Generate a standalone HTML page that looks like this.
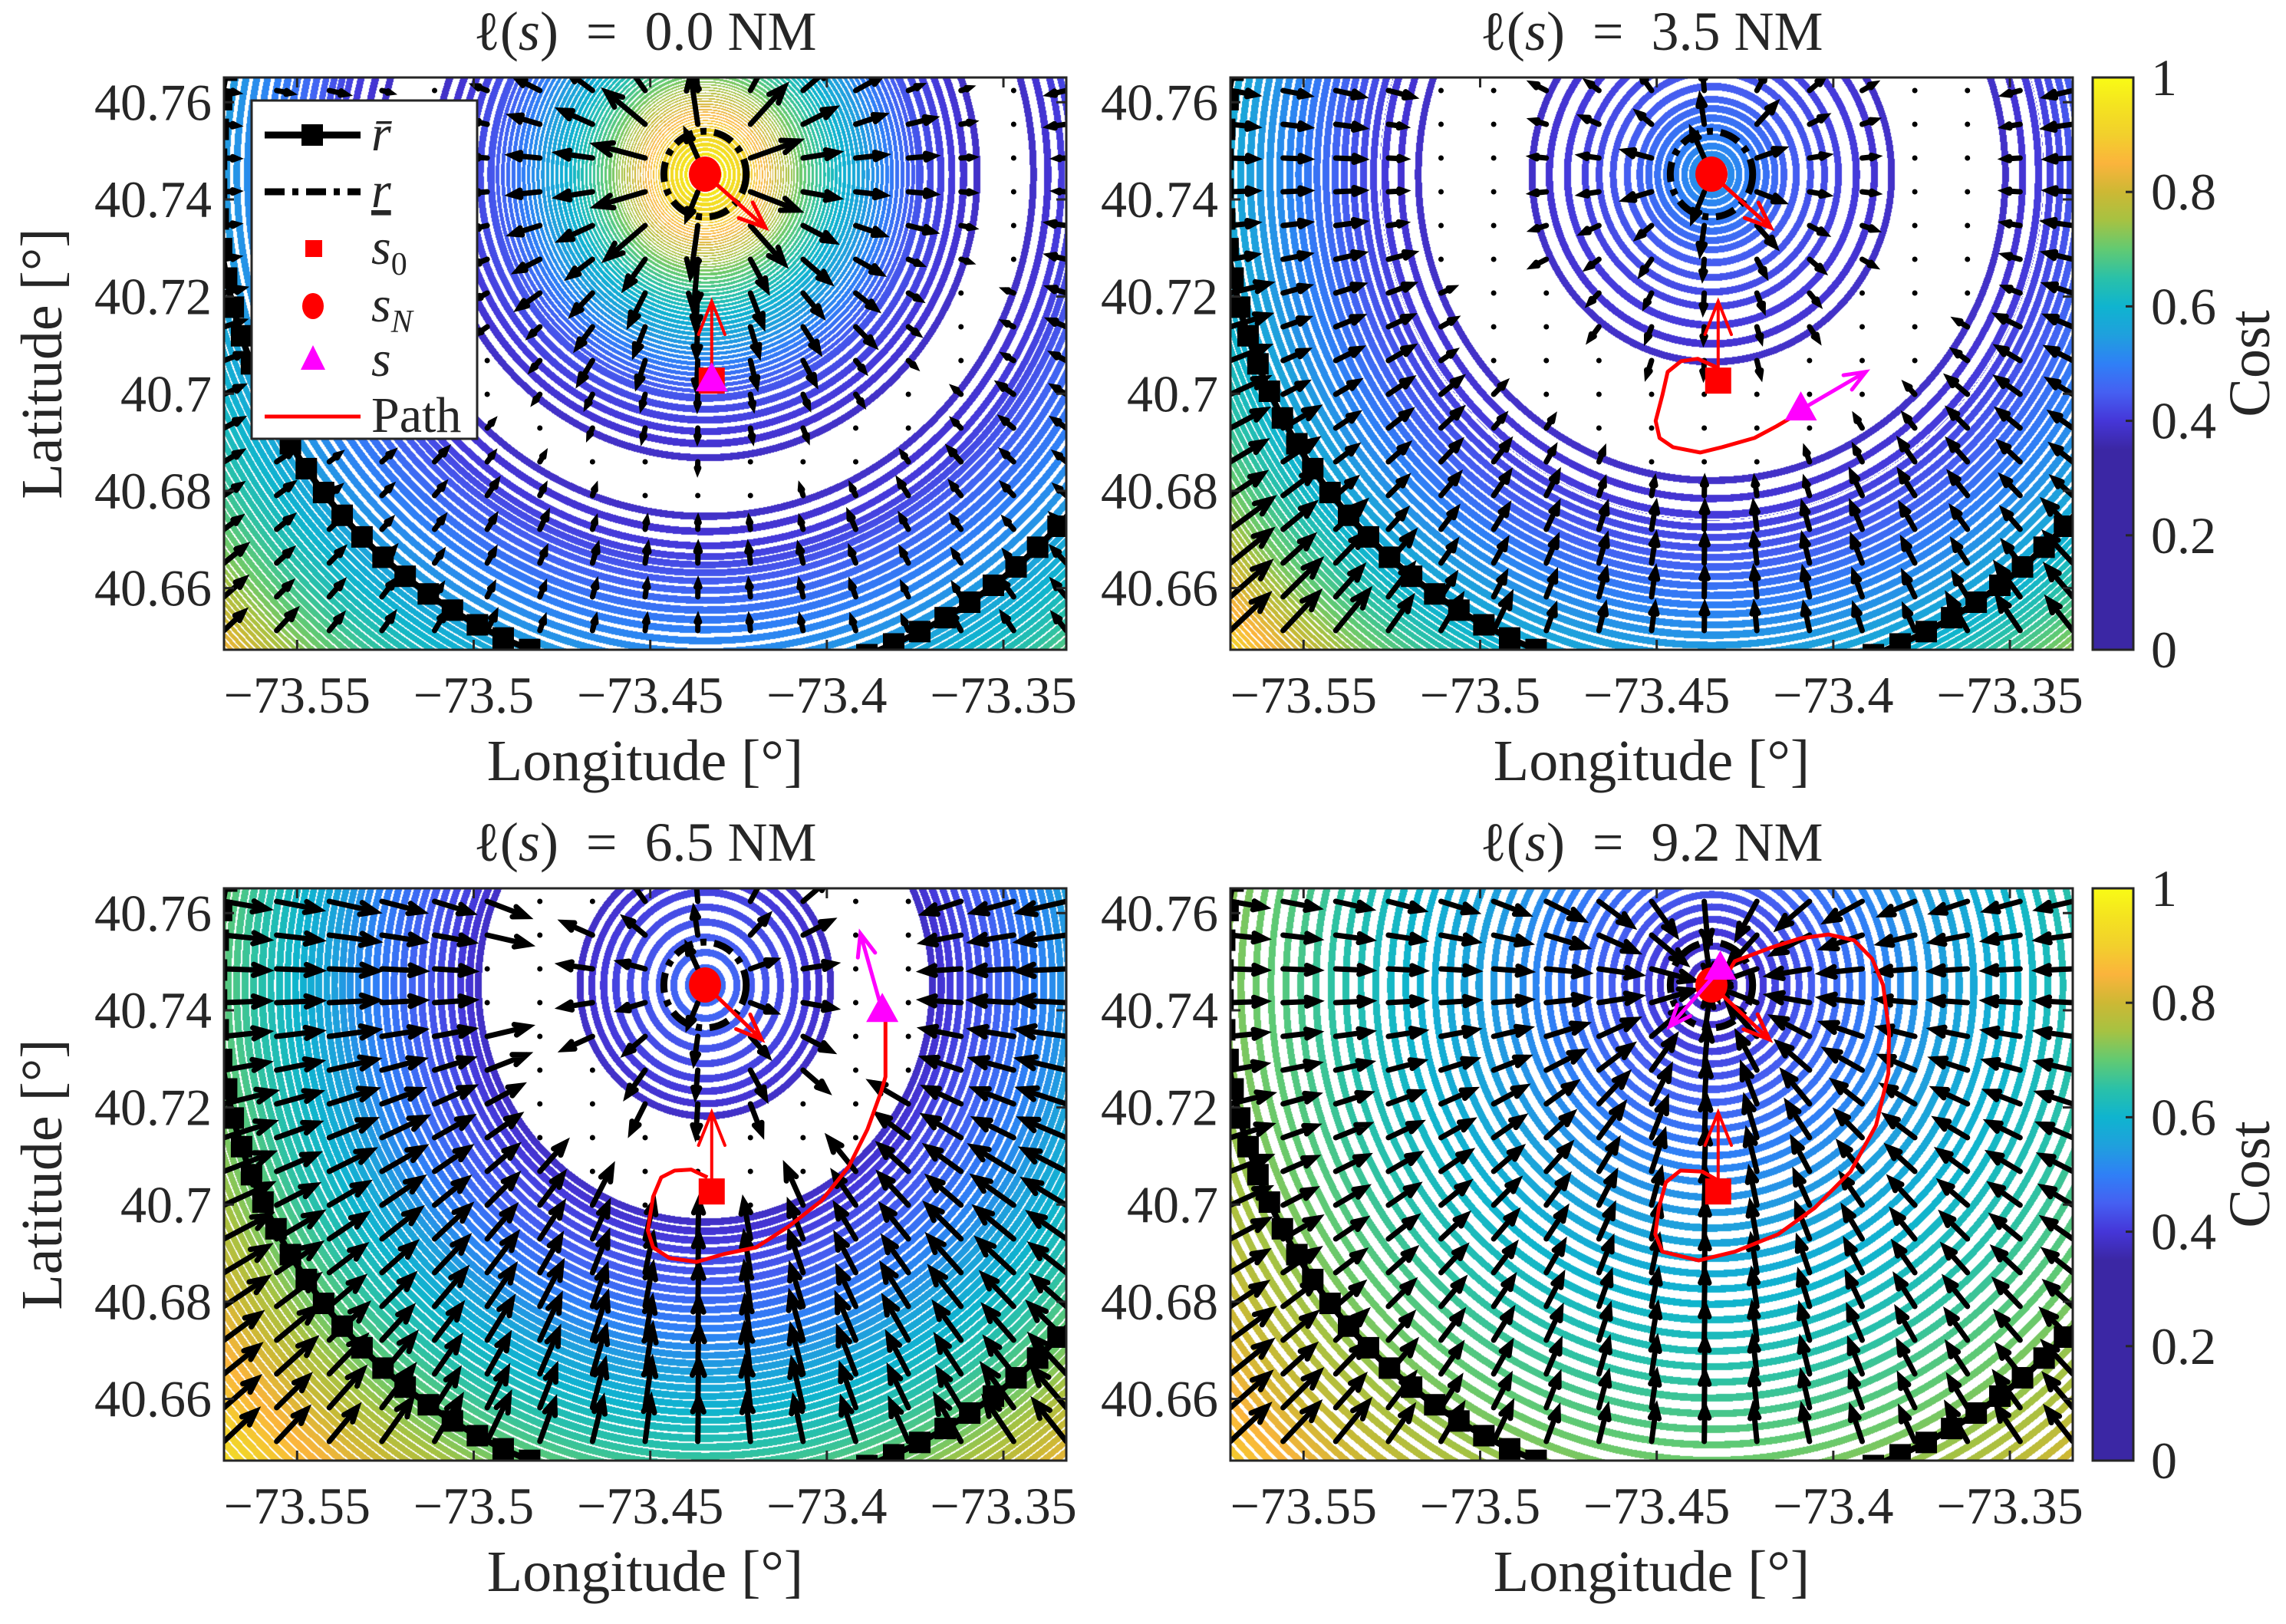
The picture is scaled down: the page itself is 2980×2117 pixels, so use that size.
<!DOCTYPE html>
<html><head><meta charset="utf-8"><style>
html,body{margin:0;padding:0;background:#fff;}
#wrap{position:relative;width:2980px;height:2117px;overflow:hidden;background:#fff;}
canvas{position:absolute;}
svg{position:absolute;left:0;top:0;}
text{font-family:"Liberation Serif","DejaVu Serif",serif;fill:#262626;}
</style></head><body>
<div id="wrap">
<canvas id="c1" width="1098" height="746" style="left:292px;top:101px"></canvas>
<canvas id="c2" width="1098" height="746" style="left:1604px;top:101px"></canvas>
<canvas id="c3" width="1098" height="746" style="left:292px;top:1158px"></canvas>
<canvas id="c4" width="1098" height="746" style="left:1604px;top:1158px"></canvas>
<svg id="ov" width="2980" height="2117" viewBox="0 0 2980 2117"></svg>
</div>
<script>
// ---- data ----
const lonTicks = [-73.55, -73.5, -73.45, -73.4, -73.35];
const latTicks = [40.66, 40.68, 40.7, 40.72, 40.74, 40.76];
const cbTicks = [0, 0.2, 0.4, 0.6, 0.8, 1];
const titles = ["0.0", "3.5", "6.5", "9.2"];
const cmapPos = [0, 0.35, 0.4, 0.45, 0.5, 0.55, 0.6, 0.65, 0.7, 0.75, 0.8, 0.85, 0.9, 0.95, 1];
const cmapCol = ["#3b27a4","#3b27a4","#4536d8","#4560f2","#2f80f6","#1fa0dd","#0fb4cf","#2ac1a8","#62ca72","#a6c242","#cdb834","#fbb43c","#f2d02c","#f4e320","#f9fb15"];
const sNLon = -73.4345, sNLat = 40.7452;
const s0Lon = -73.4326, s0Lat = 40.7027;
const rBarNM = 6.29, rLowNM = 0.53;
// cost profiles vs distance from s_N (NM)
const p1R = [0,0.58,1.17,1.75,2.33,2.72,3.11,3.40,3.59,4.13,4.32,4.66,5.05,5.63,6.29,6.99,7.77,8.64,10];
const p1C = [1.0,0.9,0.72,0.6,0.5,0.44,0.41,0.39,0.38,0.38,0.39,0.41,0.45,0.5,0.55,0.63,0.72,0.86,1.0];
const p2R = [0,0.39,0.97,1.65,2.23,2.43,3.64,3.88,4.27,4.66,5.44,6.29,7.38,8.64,10];
const p2C = [0.545,0.506,0.454,0.415,0.389,0.379,0.379,0.389,0.409,0.441,0.51,0.58,0.72,0.93,1.0];
const p3R = [0,0.58,1.17,1.70,2.86,3.11,3.69,4.47,5.44,6.29,7.38,8.64,10];
const p3C = [0.48,0.448,0.415,0.379,0.379,0.402,0.45,0.52,0.62,0.7,0.82,0.94,1.0];
const p4R = [0,0.58,1.17,2.43,3.88,6.29,7.38,8.64,10];
const p4C = [0.37,0.40,0.44,0.52,0.60,0.73,0.80,0.90,1.0];
// paths
const p2PathLon = [-73.4326,-73.4384,-73.4431,-73.4469,-73.4484,-73.4503,-73.4492,-73.4454,-73.4377,-73.4315,-73.4223,-73.4161,-73.4100];
const p2PathLat = [40.7053,40.7072,40.7067,40.7045,40.6997,40.6944,40.6909,40.6890,40.6879,40.6890,40.6909,40.6933,40.6959];
const p3PathLon = [-73.4338,-73.4384,-73.4431,-73.4469,-73.4492,-73.4507,-73.4492,-73.4446,-73.4369,-73.4292,-73.4200,-73.4108,-73.4015,-73.3938,-73.3885,-73.3846,-73.3834,-73.3834];
const p3PathLat = [40.7056,40.7072,40.7070,40.7056,40.7016,40.6947,40.6912,40.6890,40.6882,40.6898,40.6912,40.6955,40.7008,40.7078,40.7155,40.7233,40.7263,40.7402];
const p4PathLon = [-73.4330,-73.4371,-73.4433,-73.4474,-73.4494,-73.4504,-73.4484,-73.4381,-73.4279,-73.4156,-73.4053,-73.3951,-73.3879,-73.3844,-73.3842,-73.3859,-73.3890,-73.3941,-73.4013,-73.4094,-73.4176,-73.4279,-73.4310];
const p4PathLat = [40.7051,40.7068,40.7070,40.7046,40.6993,40.6939,40.6903,40.6885,40.6903,40.6939,40.6993,40.7068,40.7163,40.7270,40.7356,40.7452,40.7506,40.7544,40.7556,40.7548,40.7529,40.7501,40.7463];
const sLon = [s0Lon, -73.4092, -73.3843, -73.4320];
const sLat = [s0Lat, 40.6967, 40.7398, 40.7485];
const sArrLon = [null, -73.3908, -73.3905, -73.4463];
const sArrLat = [null, 40.7045, 40.7558, 40.7367];
const nArrLon = [-73.4174, -73.4177, -73.4185, -73.4181];
const nArrLat = [40.7342, 40.7342, 40.7340, 40.7340];
const s0ArrLat = 40.7190;

// ---- geometry ----
const LON0 = -73.5707, LONSPAN = 0.2385, LAT1 = 40.7651, LATSPAN = 0.1178;
const W = 1098, H = 746;
const PANELS = [
  {L:292, T:101, R:p1R, C:p1C, pl:null, plat:null},
  {L:1604, T:101, R:p2R, C:p2C, pl:p2PathLon, plat:p2PathLat},
  {L:292, T:1158, R:p3R, C:p3C, pl:p3PathLon, plat:p3PathLat},
  {L:1604, T:1158, R:p4R, C:p4C, pl:p4PathLon, plat:p4PathLat}
];
const PXNMX = W / LONSPAN / (60 * Math.cos(40.745 * Math.PI / 180));
const PXNMY = H / LATSPAN / 60;
const DLEV = 0.0104;
function xS(p, lon){ return p.L + (lon - LON0) / LONSPAN * W; }
function yS(p, lat){ return p.T + (LAT1 - lat) / LATSPAN * H; }
function hex(h){ return [parseInt(h.substr(1,2),16), parseInt(h.substr(3,2),16), parseInt(h.substr(5,2),16)]; }
const cmapRGB = cmapCol.map(hex);
function cmap(v){
  v = Math.max(0, Math.min(1, v));
  for (let i = 1; i < cmapPos.length; i++) {
    if (v <= cmapPos[i]) {
      const t = (v - cmapPos[i-1]) / (cmapPos[i] - cmapPos[i-1] || 1);
      const a = cmapRGB[i-1], b = cmapRGB[i];
      return [a[0]+(b[0]-a[0])*t, a[1]+(b[1]-a[1])*t, a[2]+(b[2]-a[2])*t];
    }
  }
  return cmapRGB[cmapRGB.length-1];
}
function prof(p, d){
  const R = p.R, C = p.C;
  for (let i = 1; i < R.length; i++) {
    if (d <= R[i] || i === R.length - 1) {
      const s = (C[i] - C[i-1]) / (R[i] - R[i-1]);
      return [C[i-1] + s * (d - R[i-1]), s];
    }
  }
}

// ---- field ----
PANELS.forEach((p, k) => {
  const cv = document.getElementById('c' + (k+1));
  const ctx = cv.getContext('2d');
  const img = ctx.createImageData(W, H);
  const cx = xS(p, sNLon) - p.L, cy = yS(p, sNLat) - p.T;
  const N = 3000, lutC = new Float32Array(N), lutS = new Float32Array(N);
  for (let i = 0; i < N; i++) { const r = prof(p, i * 0.004); lutC[i] = r[0]; lutS[i] = r[1]; }
  for (let y = 0; y < H; y++) for (let x = 0; x < W; x++) {
    const dx = (x - cx) / PXNMX, dy = (y - cy) / PXNMY;
    const d = Math.sqrt(dx*dx + dy*dy);
    const ii = Math.min(N-1, Math.round(d / 0.004));
    const c = lutC[ii], s = Math.abs(lutS[ii]) / 103;
    const o = (y * W + x) * 4;
    let col = [255,255,255];
    if (s > 1e-7) {
      const q = c / DLEV; const del = Math.abs(q - Math.round(q)) * DLEV;
      const pd = del / s;
      const half = Math.min(4.6, 0.5 * DLEV / s - 0.9);
      if (pd < half) col = cmap(c);
    }
    img.data[o] = col[0]; img.data[o+1] = col[1]; img.data[o+2] = col[2]; img.data[o+3] = 255;
  }
  ctx.putImageData(img, 0, 0);
});

// ---- overlay ----
const NS = 'http://www.w3.org/2000/svg';
const svg = document.getElementById('ov');
function mk(tag, attrs, parent){
  const e = document.createElementNS(NS, tag);
  for (const a in attrs) e.setAttribute(a, attrs[a]);
  (parent || svg).appendChild(e);
  return e;
}
const defs = mk('defs', {});
function arrow(g, x0, y0, x1, y1, col, lw, hf){
  const L = Math.hypot(x1-x0, y1-y0);
  if (L < 0.5) return;
  const ux = (x1-x0)/L, uy = (y1-y0)/L, h = L * hf, a = 0.38;
  const d = `M${x0},${y0}L${x1},${y1}M${x1 - h*(ux*Math.cos(a) - uy*Math.sin(a))},${y1 - h*(uy*Math.cos(a) + ux*Math.sin(a))}L${x1},${y1}L${x1 - h*(ux*Math.cos(a) + uy*Math.sin(a))},${y1 - h*(uy*Math.cos(a) - ux*Math.sin(a))}`;
  return mk('path', {d:d, stroke:col, 'stroke-width':lw, fill:'none', 'stroke-linecap':'round', 'stroke-linejoin':'miter'}, g);
}

PANELS.forEach((p, k) => {
  const clip = mk('clipPath', {id:'clip'+k}, defs);
  mk('rect', {x:p.L, y:p.T, width:W, height:H}, clip);
  const g = mk('g', {'clip-path':'url(#clip'+k+')'});
  
  
  const cx = xS(p, sNLon), cy = yS(p, sNLat);
  const qg = mk('g', {}, g);
  
  
  const pts = [];
  let gmax = 0;
  for (let j = 0; j < 18; j++) {
    const y0 = p.T + 17 + j * 44;
    if (y0 > p.T + H) break;
    for (let i = 0; i <= 16; i++) {
      const x0 = p.L + i * W / 16;
      const dx = (x0 - cx) / PXNMX, dy = (y0 - cy) / PXNMY;
      const d = Math.hypot(dx, dy);
      const s = prof(p, d)[1];
      gmax = Math.max(gmax, Math.abs(s));
      pts.push([x0, y0, dx, dy, d, s]);
    }
  }
  pts.forEach(q => {
    const [x0, y0, dx, dy, d, s] = q;
    const len = 66 * Math.abs(s) / gmax;
    const dir = s > 0 ? -1 : 1;
    const nn = Math.hypot(dx*PXNMX, dy*PXNMY) || 1;
    const ux = dir * dx * PXNMX / nn, uy = dir * dy * PXNMY / nn;
    if (len < 6) {
      mk('circle', {cx:x0, cy:y0, r:3.5, fill:'#000'}, qg);
    } else {
      arrow(qg, x0, y0, x0 + ux*len, y0 + uy*len, '#000', 7, 0.34);
    }
  });
  let dpath = '';
  const rb = mk('g', {}, g);
  
  
  for (let t = 0; t <= 361; t += 1) {
    const a = t * Math.PI / 180;
    dpath += (t ? 'L' : 'M') + (cx + rBarNM*PXNMX*Math.cos(a)) + ',' + (cy + rBarNM*PXNMY*Math.sin(a));
  }
  mk('path', {d:dpath, stroke:'#000', 'stroke-width':8, fill:'none'}, rb);
  const nm = 107;
  for (let i = 0; i < nm; i++) {
    const a = i * 2 * Math.PI / nm;
    const mx = cx + rBarNM*PXNMX*Math.cos(a), my = cy + rBarNM*PXNMY*Math.sin(a);
    mk('rect', {x:mx-14, y:my-14, width:28, height:28, fill:'#000'}, rb);
  }
  const rl = mk('ellipse', {cx:cx, cy:cy, rx:rLowNM*PXNMX, ry:rLowNM*PXNMY, fill:'none', stroke:'#000', 'stroke-width':9, 'stroke-dasharray':'26 10 8 10'}, g);
  
  
  if (p.pl) {
    let d = '';
    p.pl.forEach((lon, i) => { d += (i ? 'L' : 'M') + xS(p, lon) + ',' + yS(p, p.plat[i]); });
    const pe = mk('path', {d:d, stroke:'#ff0000', 'stroke-width':5, fill:'none', 'stroke-linejoin':'round'}, g);
    
    
  }
  const s0x = xS(p, s0Lon), s0y = yS(p, s0Lat);
  const sq = mk('rect', {x:s0x-17, y:s0y-17, width:34, height:34, fill:'#ff0000'}, g);
  
  
  const a0 = arrow(g, s0x, s0y, s0x, yS(p, s0ArrLat), '#ff0000', 4, 0.45);
  
  
  const an = arrow(g, cx, cy, xS(p, nArrLon[k]), yS(p, nArrLat[k]), '#ff0000', 5, 0.35);
  
  
  const gc = mk('ellipse', {cx:cx, cy:cy, rx:21, ry:23, fill:'#ff0000'}, g);
  
  
  const sx = xS(p, sLon[k]), sy = yS(p, sLat[k]);
  if (sArrLon[k] !== null) {
    const as = arrow(g, sx, sy, xS(p, sArrLon[k]), yS(p, sArrLat[k]), '#ff00ff', 5, 0.3);
    
    
  }
  const tri = mk('path', {d:`M${sx},${sy-24}L${sx+21},${sy+14}L${sx-21},${sy+14}Z`, fill:'#ff00ff'}, g);
  
  

  const ax = mk('g', {});
  
  
  mk('rect', {x:p.L, y:p.T, width:W, height:H, fill:'none', stroke:'#262626', 'stroke-width':3}, ax);
  lonTicks.forEach(v => {
    const x = xS(p, v);
    mk('path', {d:`M${x},${p.T+H}v-13M${x},${p.T}v13`, stroke:'#262626', 'stroke-width':3}, ax);
    const t = mk('text', {x:x, y:p.T+H+82, 'font-size':68, 'text-anchor':'middle'}, ax);
    t.textContent = '\u2212' + String(Math.abs(v));
    
    
  });
  latTicks.forEach(v => {
    const y = yS(p, v);
    mk('path', {d:`M${p.L},${y}h13M${p.L+W},${y}h-13`, stroke:'#262626', 'stroke-width':3}, ax);
    const t = mk('text', {x:p.L-16, y:y+23, 'font-size':68, 'text-anchor':'end'}, ax);
    t.textContent = String(v);
    
    
  });
  const tt = mk('text', {x:p.L+W/2, y:p.T-36, 'font-size':72, 'text-anchor':'middle'});
  tt.innerHTML = '\u2113(<tspan font-style="italic">s</tspan>)\u2002=\u20020.0 NM'.replace('0.0', titles[k]);
  
  
  const xl = mk('text', {x:p.L+W/2, y:p.T+H+170, 'font-size':76, 'text-anchor':'middle'});
  xl.textContent = 'Longitude [\u00b0]';
  
  
  if (p.L < 1000) {
    const yl = mk('text', {x:0, y:0, 'font-size':76, 'text-anchor':'middle', transform:`translate(${p.L-212},${p.T+H/2}) rotate(-90)`});
    yl.textContent = 'Latitude [\u00b0]';
    
    
  }
});

const lg = mk('linearGradient', {id:'cbgrad', x1:0, y1:1, x2:0, y2:0}, defs);
cmapPos.forEach((v, i) => mk('stop', {offset:v, 'stop-color':cmapCol[i]}, lg));
[101, 1158].forEach((T, k) => {
  const cb = mk('g', {});
  
  
  const X = 2728, CW = 53;
  mk('rect', {x:X, y:T, width:CW, height:H, fill:'url(#cbgrad)', stroke:'#262626', 'stroke-width':3}, cb);
  cbTicks.forEach(v => {
    const y = T + (1 - v) * H;
    mk('path', {d:`M${X+CW},${y}h-10`, stroke:'#262626', 'stroke-width':3}, cb);
    const t = mk('text', {x:2804, y:y+23, 'font-size':68}, cb);
    t.textContent = String(v);
    
    
  });
  const ct = mk('text', {x:0, y:0, 'font-size':76, 'text-anchor':'middle', transform:`translate(2958,${T+H/2}) rotate(-90)`}, cb);
  ct.textContent = 'Cost';
  
  
});

const leg = mk('g', {});


mk('rect', {x:328, y:131, width:294, height:441, fill:'#fff', stroke:'#262626', 'stroke-width':3}, leg);
const ly = [176, 250, 324, 399, 470, 543];
mk('path', {d:`M345,${ly[0]}H470`, stroke:'#000', 'stroke-width':9}, leg);
mk('rect', {x:393, y:ly[0]-14, width:28, height:28, fill:'#000'}, leg);
mk('path', {d:`M345,${ly[1]}H470`, stroke:'#000', 'stroke-width':9, 'stroke-dasharray':'26 10 8 10'}, leg);
mk('rect', {x:398, y:ly[2]-11, width:22, height:22, fill:'#ff0000'}, leg);
mk('ellipse', {cx:408, cy:ly[3], rx:14, ry:17, fill:'#ff0000'}, leg);
mk('path', {d:`M408,${ly[4]-20}L424,${ly[4]+12}L392,${ly[4]+12}Z`, fill:'#ff00ff'}, leg);
mk('path', {d:`M345,${ly[5]}H470`, stroke:'#ff0000', 'stroke-width':5}, leg);
const labels = ['<tspan font-style="italic">r\u0304</tspan>', '<tspan font-style="italic" text-decoration="underline">r</tspan>',
  '<tspan font-style="italic">s</tspan><tspan font-size="42" dy="14">0</tspan>', '<tspan font-style="italic">s</tspan><tspan font-size="42" font-style="italic" dy="14">N</tspan>',
  '<tspan font-style="italic">s</tspan>', 'Path'];
labels.forEach((h, i) => {
  const t = mk('text', {x:484, y:ly[i]+20, 'font-size':66}, leg);
  t.innerHTML = h;
  
  
});
</script>
</body></html>
